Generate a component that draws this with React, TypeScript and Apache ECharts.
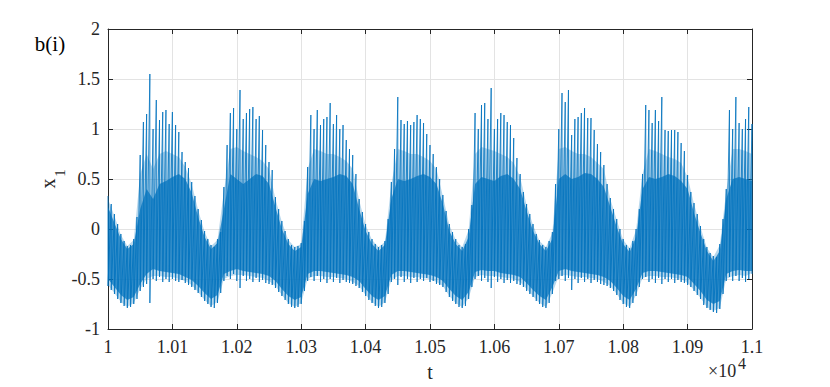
import React, { useEffect, useRef } from "react";
import * as echarts from "echarts";

// time axis (t), values are in t units; labels shown scaled by 10^4
const T_START = 10000;
const T_END = 11000;
const FINE_STEP = 5; // spacing of min/max samples
const CORE_STEP = 10; // spacing of band samples

// local maxima of x1 per 5-unit bin (t = 10000 ... 11000)
const peakHi = [
  0.33, 0.25, 0.15, 0.05, -0.05, -0.12, -0.17, -0.16, -0.10, 0.12,
  0.74, 1.07, 1.15, 1.55, 1.00, 1.29, 1.09, 1.17, 1.19, 1.05,
  1.17, 1.04, 0.97, 0.77, 0.67, 0.61, 0.47, 0.33, 0.20, 0.09,
  -0.02, -0.10, -0.16, -0.18, -0.10, -0.03, 0.42, 0.84, 1.16, 1.21,
  1.00, 1.39, 1.10, 1.16, 1.20, 1.22, 1.10, 1.13, 0.99, 0.84,
  0.67, 0.59, 0.32, 0.20, 0.08, -0.02, -0.10, -0.16, -0.18, -0.17,
  -0.14, 0.08, 0.62, 1.14, 1.00, 1.19, 1.04, 1.10, 1.12, 1.26,
  1.05, 1.14, 1.00, 1.04, 0.89, 0.80, 0.74, 0.55, 0.30, 0.17,
  0.05, -0.03, -0.10, -0.15, -0.18, -0.16, -0.12, 0.10, 0.47, 0.80,
  1.32, 1.09, 1.05, 1.08, 1.04, 1.07, 1.14, 1.10, 1.06, 0.95,
  0.84, 0.75, 0.62, 0.50, 0.34, 0.18, 0.05, -0.03, -0.10, -0.16,
  -0.18, -0.15, 0.00, 0.24, 1.16, 1.00, 1.24, 1.26, 1.10, 1.41,
  1.00, 1.10, 1.16, 1.14, 1.07, 1.04, 0.91, 0.71, 0.55, 0.37,
  0.25, 0.15, 0.05, -0.05, -0.11, -0.16, -0.18, -0.12, -0.03, 0.45,
  1.00, 1.36, 1.27, 1.39, 0.94, 1.10, 1.12, 1.16, 1.21, 1.11,
  1.11, 0.99, 0.85, 0.77, 0.64, 0.45, 0.31, 0.20, 0.10, 0.00,
  -0.10, -0.16, -0.19, -0.12, 0.00, 0.20, 0.55, 1.24, 1.19, 1.06,
  1.19, 1.08, 1.32, 0.99, 0.98, 0.99, 0.99, 0.97, 0.86, 0.78,
  0.54, 0.37, 0.26, 0.15, 0.03, -0.10, -0.18, -0.24, -0.27, -0.28,
  -0.15, 0.10, 0.40, 1.19, 1.00, 1.32, 1.06, 1.00, 1.10, 1.22,
  1.05,
];

// local minima of x1 per 5-unit bin
const peakLo = [
  -0.57, -0.61, -0.65, -0.70, -0.74, -0.77, -0.79, -0.78, -0.75, -0.70,
  -0.62, -0.58, -0.55, -0.74, -0.50, -0.52, -0.48, -0.53, -0.50, -0.53,
  -0.50, -0.52, -0.53, -0.51, -0.54, -0.56, -0.58, -0.61, -0.64, -0.68,
  -0.72, -0.75, -0.78, -0.79, -0.74, -0.64, -0.52, -0.47, -0.50, -0.45,
  -0.52, -0.59, -0.47, -0.52, -0.50, -0.53, -0.49, -0.53, -0.51, -0.54,
  -0.55, -0.56, -0.59, -0.63, -0.67, -0.71, -0.75, -0.78, -0.79, -0.78,
  -0.75, -0.62, -0.52, -0.48, -0.52, -0.47, -0.53, -0.50, -0.54, -0.50,
  -0.53, -0.49, -0.54, -0.51, -0.53, -0.54, -0.55, -0.57, -0.59, -0.63,
  -0.67, -0.71, -0.74, -0.77, -0.79, -0.78, -0.74, -0.65, -0.53, -0.50,
  -0.56, -0.48, -0.53, -0.50, -0.54, -0.49, -0.53, -0.50, -0.52, -0.49,
  -0.53, -0.52, -0.55, -0.56, -0.58, -0.63, -0.68, -0.72, -0.75, -0.78,
  -0.79, -0.77, -0.70, -0.58, -0.50, -0.47, -0.52, -0.49, -0.53, -0.59,
  -0.48, -0.53, -0.50, -0.54, -0.51, -0.54, -0.52, -0.55, -0.56, -0.58,
  -0.62, -0.65, -0.68, -0.72, -0.75, -0.78, -0.79, -0.74, -0.65, -0.52,
  -0.50, -0.47, -0.52, -0.49, -0.61, -0.50, -0.54, -0.49, -0.53, -0.50,
  -0.54, -0.51, -0.53, -0.55, -0.56, -0.57, -0.59, -0.62, -0.66, -0.71,
  -0.75, -0.78, -0.79, -0.74, -0.67, -0.58, -0.50, -0.48, -0.53, -0.50,
  -0.54, -0.49, -0.55, -0.50, -0.53, -0.50, -0.54, -0.51, -0.53, -0.54,
  -0.56, -0.58, -0.62, -0.66, -0.70, -0.76, -0.79, -0.81, -0.83, -0.84,
  -0.80, -0.65, -0.52, -0.48, -0.52, -0.47, -0.52, -0.49, -0.53, -0.50,
  -0.45,
];

// top / bottom of the medium-density region per 10-unit bin
const haloTop = [
  0.30, 0.13, -0.06, -0.17, -0.11, 0.55, 0.75, 0.60, 0.75, 0.78,
  0.75, 0.72, 0.62, 0.45, 0.19, -0.03, -0.17, -0.11, 0.38, 0.80,
  0.82, 0.78, 0.75, 0.72, 0.68, 0.60, 0.30, 0.07, -0.11, -0.18,
  -0.15, 0.60, 0.80, 0.78, 0.75, 0.75, 0.72, 0.68, 0.60, 0.29,
  0.04, -0.11, -0.18, -0.13, 0.45, 0.80, 0.78, 0.75, 0.75, 0.72,
  0.68, 0.60, 0.33, 0.04, -0.11, -0.18, -0.01, 0.75, 0.82, 0.80,
  0.78, 0.75, 0.72, 0.66, 0.52, 0.24, 0.04, -0.12, -0.18, -0.04,
  0.80, 0.82, 0.78, 0.75, 0.75, 0.72, 0.66, 0.60, 0.30, 0.09,
  -0.11, -0.19, -0.01, 0.55, 0.80, 0.78, 0.75, 0.72, 0.70, 0.66,
  0.52, 0.25, 0.02, -0.19, -0.28, -0.16, 0.38, 0.80, 0.80, 0.78,
  0.75,
];

const haloBot = [
  -0.56, -0.64, -0.73, -0.78, -0.74, -0.60, -0.50, -0.47, -0.47, -0.48,
  -0.48, -0.50, -0.52, -0.56, -0.63, -0.71, -0.77, -0.73, -0.50, -0.47,
  -0.46, -0.46, -0.47, -0.48, -0.49, -0.52, -0.57, -0.66, -0.74, -0.78,
  -0.74, -0.50, -0.47, -0.47, -0.48, -0.48, -0.49, -0.50, -0.53, -0.57,
  -0.66, -0.73, -0.78, -0.73, -0.51, -0.47, -0.47, -0.48, -0.48, -0.49,
  -0.50, -0.53, -0.57, -0.67, -0.74, -0.78, -0.69, -0.48, -0.46, -0.47,
  -0.47, -0.48, -0.49, -0.50, -0.53, -0.60, -0.67, -0.74, -0.78, -0.64,
  -0.47, -0.46, -0.47, -0.48, -0.48, -0.49, -0.50, -0.53, -0.57, -0.65,
  -0.74, -0.78, -0.66, -0.49, -0.47, -0.47, -0.48, -0.48, -0.49, -0.50,
  -0.54, -0.61, -0.69, -0.78, -0.82, -0.79, -0.50, -0.47, -0.46, -0.47,
  -0.44,
];

// top / bottom of the dense core band per 10-unit bin
const coreTop = [
  0.22, 0.06, -0.10, -0.20, -0.15, 0.20, 0.40, 0.30, 0.45, 0.48,
  0.52, 0.55, 0.50, 0.36, 0.12, -0.08, -0.20, -0.14, 0.20, 0.55,
  0.50, 0.45, 0.50, 0.55, 0.53, 0.45, 0.22, 0.00, -0.15, -0.22,
  -0.18, 0.35, 0.50, 0.48, 0.50, 0.52, 0.55, 0.53, 0.45, 0.20,
  -0.02, -0.15, -0.22, -0.16, 0.30, 0.50, 0.48, 0.50, 0.53, 0.55,
  0.52, 0.45, 0.25, -0.02, -0.15, -0.22, -0.08, 0.45, 0.52, 0.50,
  0.48, 0.53, 0.55, 0.50, 0.40, 0.18, -0.02, -0.15, -0.22, -0.10,
  0.50, 0.55, 0.50, 0.52, 0.56, 0.55, 0.50, 0.42, 0.22, 0.02,
  -0.15, -0.23, -0.08, 0.40, 0.52, 0.50, 0.52, 0.55, 0.53, 0.48,
  0.40, 0.16, -0.04, -0.22, -0.32, -0.22, 0.30, 0.50, 0.52, 0.50,
  0.48,
];

const coreBot = [
  -0.50, -0.58, -0.66, -0.71, -0.68, -0.55, -0.45, -0.40, -0.42, -0.43,
  -0.44, -0.45, -0.48, -0.51, -0.57, -0.64, -0.70, -0.66, -0.45, -0.42,
  -0.40, -0.42, -0.43, -0.44, -0.45, -0.47, -0.52, -0.60, -0.67, -0.71,
  -0.68, -0.45, -0.42, -0.42, -0.43, -0.44, -0.45, -0.46, -0.48, -0.52,
  -0.60, -0.67, -0.71, -0.67, -0.46, -0.42, -0.42, -0.43, -0.44, -0.45,
  -0.46, -0.48, -0.52, -0.60, -0.67, -0.71, -0.63, -0.43, -0.41, -0.42,
  -0.42, -0.44, -0.45, -0.46, -0.48, -0.54, -0.61, -0.67, -0.71, -0.58,
  -0.42, -0.40, -0.42, -0.43, -0.44, -0.45, -0.46, -0.48, -0.52, -0.59,
  -0.67, -0.71, -0.60, -0.44, -0.42, -0.42, -0.43, -0.44, -0.45, -0.46,
  -0.48, -0.55, -0.62, -0.71, -0.75, -0.72, -0.45, -0.42, -0.41, -0.42,
  -0.42,
];

const Y_MIN = -1;
const Y_MAX = 2;
const Y_STEP = 0.5;
const X_STEP = 100;

const SERIF = "Liberation Serif";
const BLUE = "#0072BD";
const AXIS_COLOR = "#262626";
const GRID_COLOR = "#e3e3e3";

function bandSeries(top: number[], bot: number[], opacity: number, z: number) {
  const data = top.map((v, i) => [T_START + i * CORE_STEP, v, bot[i]]);
  return {
    type: "custom",
    data,
    encode: { x: 0, y: [1, 2] },
    silent: true,
    clip: true,
    z,
    renderItem: (params: any, api: any) => {
      if (params.dataIndex !== 0) return null;
      const pts: number[][] = [];
      for (let i = 0; i < data.length; i++) pts.push(api.coord([data[i][0], data[i][1]]));
      for (let i = data.length - 1; i >= 0; i--) pts.push(api.coord([data[i][0], data[i][2]]));
      return {
        type: "polygon",
        shape: { points: pts },
        style: { fill: BLUE, opacity, stroke: "none" },
      };
    },
  };
}

export default function App() {
  const ref = useRef<HTMLDivElement>(null);

  useEffect(() => {
    if (!ref.current) return;
    const chart = echarts.init(ref.current, undefined, { renderer: "svg" });

    const zig: number[][] = [];
    peakHi.forEach((h, i) => {
      const t = T_START + i * FINE_STEP;
      zig.push([t, h]);
      zig.push([t, peakLo[i]]);
    });

    const xFmt = (v: number) => String(+(v / 10000).toFixed(2));

    const baseX = {
      type: "value",
      min: T_START,
      max: T_END,
      interval: X_STEP,
      axisLine: { show: true, onZero: false, lineStyle: { color: AXIS_COLOR, width: 1 } },
      axisTick: { show: true, inside: true, length: 5, lineStyle: { color: AXIS_COLOR } },
    };
    const baseY = {
      type: "value",
      min: Y_MIN,
      max: Y_MAX,
      interval: Y_STEP,
      axisLine: { show: true, onZero: false, lineStyle: { color: AXIS_COLOR, width: 1 } },
      axisTick: { show: true, inside: true, length: 5, lineStyle: { color: AXIS_COLOR } },
    };

    chart.setOption({
      animation: false,
      backgroundColor: "#ffffff",
      textStyle: { fontFamily: SERIF },
      grid: { left: 108, right: 78, top: 29, bottom: 58, containLabel: false, outerBoundsMode: "none" },
      xAxis: [
        {
          ...baseX,
          position: "bottom",
          axisLabel: { formatter: xFmt, fontFamily: SERIF, fontSize: 18, color: AXIS_COLOR, margin: 9, showMinLabel: true, showMaxLabel: true },
          splitLine: { show: true, lineStyle: { color: GRID_COLOR, width: 1 } },
          name: "t",
          nameLocation: "middle",
          nameGap: 33,
          nameTextStyle: { fontFamily: SERIF, fontSize: 20, color: AXIS_COLOR },
        },
        { ...baseX, position: "top", axisLabel: { show: false }, splitLine: { show: false } },
      ],
      yAxis: [
        {
          ...baseY,
          position: "left",
          axisLabel: { fontFamily: SERIF, fontSize: 18, color: AXIS_COLOR, margin: 8, showMinLabel: true, showMaxLabel: true },
          splitLine: { show: true, lineStyle: { color: GRID_COLOR, width: 1 } },
        },
        { ...baseY, position: "right", axisLabel: { show: false }, splitLine: { show: false } },
      ],
      series: [
        bandSeries(haloTop, haloBot, 0.28, 2),
        bandSeries(coreTop, coreBot, 0.72, 2),
        {
          type: "line",
          data: zig,
          symbol: "none",
          showSymbol: false,
          lineStyle: { color: BLUE, width: 0.9, opacity: 0.9 },
          silent: true,
          z: 3,
        },
      ],
      graphic: [
        { type: "text", x: 50, y: 44, style: { text: "b(i)", fontFamily: SERIF, fontSize: 21, fill: "#000000", align: "center", verticalAlign: "middle" } },
        { type: "text", x: 48, y: 183.5, rotation: Math.PI / 2, style: { text: "x", fontFamily: SERIF, fontSize: 20, fill: AXIS_COLOR, align: "center", verticalAlign: "middle" } },
        { type: "text", x: 60, y: 173, rotation: Math.PI / 2, style: { text: "1", fontFamily: SERIF, fontSize: 15, fill: AXIS_COLOR, align: "center", verticalAlign: "middle" } },
        { type: "text", x: 708, y: 371, style: { text: "×10", fontFamily: SERIF, fontSize: 18, fill: AXIS_COLOR, align: "left", verticalAlign: "middle" } },
        { type: "text", x: 738, y: 363, style: { text: "4", fontFamily: SERIF, fontSize: 16, fill: AXIS_COLOR, align: "left", verticalAlign: "middle" } },
      ],
    });

    return () => {
      chart.dispose();
    };
  }, []);

  return <div ref={ref} style={{ width: 830, height: 387, position: "absolute", left: 0, top: 0, background: "#fff" }} />;
}
